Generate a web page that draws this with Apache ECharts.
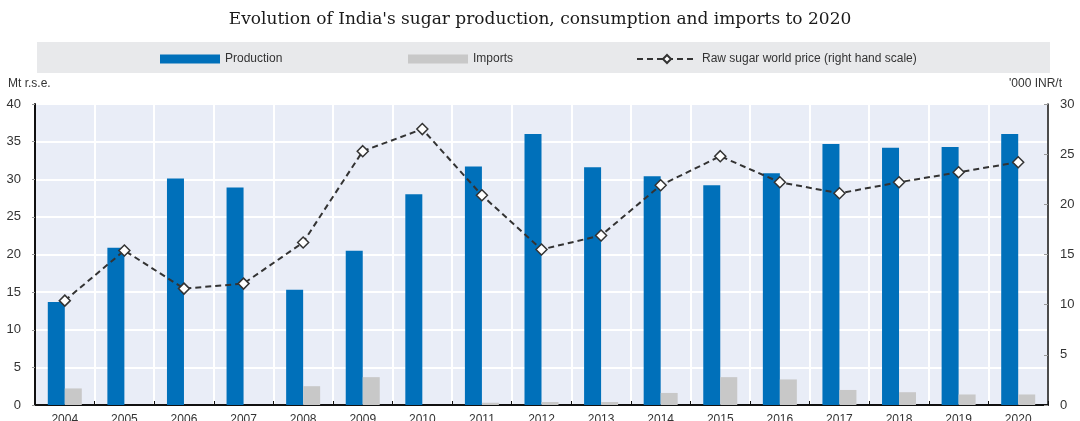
<!DOCTYPE html>
<html>
<head>
<meta charset="utf-8">
<script src="https://cdn.jsdelivr.net/npm/echarts@6/dist/echarts.min.js"></script>
<style>html,body{margin:0;padding:0;background:#fff}#c{width:1080px;height:421px}</style>
</head>
<body>
<div id="c"></div>
<script>
const years = ['2004','2005','2006','2007','2008','2009','2010','2011','2012','2013','2014','2015','2016','2017','2018','2019','2020'];
const production = [13.7, 20.9, 30.1, 28.9, 15.3, 20.5, 28.0, 31.7, 36.0, 31.6, 30.4, 29.2, 30.8, 34.7, 34.2, 34.3, 36.0];
const imports = [2.2, 0, 0, 0, 2.5, 3.7, 0, 0.3, 0.4, 0.4, 1.6, 3.7, 3.4, 2.0, 1.7, 1.4, 1.4];
const price = [10.4, 15.4, 11.6, 12.1, 16.2, 25.3, 27.5, 20.9, 15.5, 16.9, 21.9, 24.8, 22.2, 21.1, 22.2, 23.2, 24.2];
const leftTicks = {min: 0, max: 40, interval: 5};
const rightTicks = {min: 0, max: 30, interval: 5};

const chart = echarts.init(document.getElementById('c'));
const txt = '#333';
const font = 'Liberation Sans, Arial, sans-serif';
chart.setOption({
  animation: false,
  title: {
    text: "Evolution of India's sugar production, consumption and imports to 2020",
    left: 'center', top: 6,
    textStyle: {fontFamily: 'DejaVu Serif', fontSize: 17, fontWeight: 'normal', color: '#1a1a1a'}
  },
  graphic: [
    {type: 'rect', shape: {x: 37, y: 42, width: 1013, height: 31}, style: {fill: '#E8E9EB'}, z: -1},
    {type: 'text', left: 8, top: 78, style: {text: 'Mt r.s.e.', font: '12px ' + font, fill: txt}},
    {type: 'text', right: 18, top: 78, style: {text: "'000 INR/t", font: '12px ' + font, fill: txt}}
  ],
  legend: [
    {data: [{name: 'Production', icon: 'rect'}], left: 155, top: 48, itemWidth: 60, itemHeight: 9, itemGap: 8,
      textStyle: {fontFamily: font, fontSize: 12, color: txt}},
    {data: [{name: 'Imports', icon: 'rect'}], left: 403, top: 48, itemWidth: 60, itemHeight: 9,
      textStyle: {fontFamily: font, fontSize: 12, color: txt}},
    {data: ['Raw sugar world price (right hand scale)'], left: 631, top: 48, itemWidth: 60, itemHeight: 10,
      textStyle: {fontFamily: font, fontSize: 12, color: txt}}
  ],
  grid: {left: 35, right: 32, top: 104, bottom: 16, show: true, backgroundColor: '#E9EDF7', borderWidth: 0,
    containLabel: false, outerBoundsMode: 'none'},
  xAxis: {
    type: 'category', data: years, boundaryGap: true,
    axisLine: {lineStyle: {color: '#111', width: 2}},
    axisTick: {show: true, inside: true, length: 4, lineStyle: {color: '#111'}},
    splitLine: {show: true, lineStyle: {color: '#fff', width: 2}},
    axisLabel: {margin: 9, fontFamily: font, fontSize: 12, color: txt}
  },
  yAxis: [
    {type: 'value', min: leftTicks.min, max: leftTicks.max, interval: leftTicks.interval,
      axisLine: {show: true, lineStyle: {color: '#111', width: 2}},
      axisTick: {show: true, length: 3, lineStyle: {color: '#999'}},
      splitLine: {show: true, lineStyle: {color: '#fff', width: 2}},
      axisLabel: {margin: 14, fontFamily: font, fontSize: 13, color: txt}},
    {type: 'value', min: rightTicks.min, max: rightTicks.max, interval: rightTicks.interval, position: 'right',
      axisLine: {show: true, lineStyle: {color: '#111', width: 1.5}},
      axisTick: {show: true, inside: true, length: 4, lineStyle: {color: '#999'}},
      splitLine: {show: false},
      axisLabel: {margin: 12, fontFamily: font, fontSize: 13, color: txt}}
  ],
  series: [
    {name: 'Production', type: 'bar', data: production, barWidth: 17, barGap: '0%',
      itemStyle: {color: '#0070BA'}},
    {name: 'Imports', type: 'bar', data: imports, barWidth: 17, barGap: '0%',
      itemStyle: {color: '#C8C8C8'}},
    {name: 'Raw sugar world price (right hand scale)', type: 'line', yAxisIndex: 1, data: price,
      symbol: 'diamond', symbolSize: 11,
      lineStyle: {color: '#333', width: 2, type: [6, 4]},
      itemStyle: {color: '#fff', borderColor: '#333', borderWidth: 1.5}}
  ]
});
</script>
</body>
</html>
